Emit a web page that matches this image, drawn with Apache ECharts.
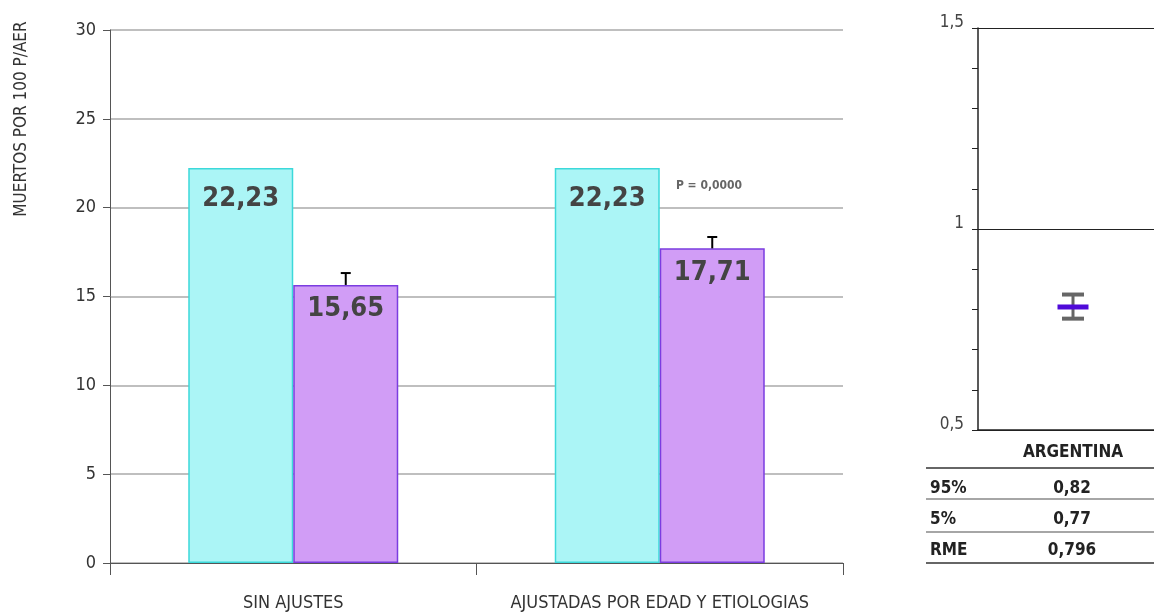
<!DOCTYPE html>
<html><head><meta charset="utf-8">
<script src="https://cdn.jsdelivr.net/npm/echarts@6/dist/echarts.min.js"></script>
<style>html,body{margin:0;padding:0;background:#fff}#c{width:1154px;height:613px}</style>
</head><body><div id="c"></div>
<script>
// ---- data ----
const categories = ['SIN AJUSTES', 'AJUSTADAS POR EDAD Y ETIOLOGIAS'];
const crudeValues = [22.23, 22.23];
const adjustedValues = [15.65, 17.71];
const adjustedUpper = [16.32, 18.35];
const leftTicks = [0, 5, 10, 15, 20, 25, 30];
const yAxisTitle = 'MUERTOS POR 100 P/AER';
const pText = 'P = 0,0000';
const rightCategories = ['ARGENTINA'];
const rmeDrawn = [0.806];
const rmeHigh = [0.837];
const rmeLow = [0.777];
const rightTicks = [0.5, 1, 1.5];
const tableLabels = ['95%', '5%', 'RME'];
const tableValues = ['0,82', '0,77', '0,796'];

const FONT = '"Liberation Sans Narrow", "DejaVu Sans Condensed", "Roboto Condensed", sans-serif';
const fmt = v => String(v).replace('.', ',');
const RIGHT_SHIFT = 7;

const chart = echarts.init(document.getElementById('c'), null, {renderer: 'canvas'});

const tableGraphics = [];
const rowY = [489, 520, 551];
const lineY = [468, 499, 532, 563];
lineY.forEach((y, i) => {
  tableGraphics.push({type: 'line', shape: {x1: 926, y1: y, x2: 1154, y2: y},
    style: {stroke: (i === 0 || i === 3) ? '#333' : '#888', lineWidth: 1.5}});
});
tableLabels.forEach((t, i) => {
  tableGraphics.push({type: 'text', x: 930, y: rowY[i], style: {text: t, font: 'bold 17px ' + FONT, fill: '#222', textAlign: 'left', textVerticalAlign: 'middle'}});
  tableGraphics.push({type: 'text', x: 1072, y: rowY[i], style: {text: tableValues[i], font: 'bold 17px ' + FONT, fill: '#222', textAlign: 'center', textVerticalAlign: 'middle'}});
});

const option = {
  animation: false,
  backgroundColor: '#fff',
  grid: [
    {left: 110, right: 311, top: 30, bottom: 50},
    {left: 978, right: 0, top: 28, bottom: 183}
  ],
  xAxis: [
    {type: 'category', gridIndex: 0, data: categories,
      axisLine: {lineStyle: {color: '#555', width: 1}},
      axisTick: {show: true, length: 12, lineStyle: {color: '#555'}},
      axisLabel: {interval: 0, margin: 31, fontSize: 18, color: '#333', fontFamily: FONT}},
    {type: 'category', gridIndex: 1, data: rightCategories,
      axisLine: {lineStyle: {color: '#222', width: 1.5}},
      axisTick: {show: false},
      axisLabel: {interval: 0, margin: 14, fontSize: 17, fontWeight: 'bold', color: '#222', fontFamily: FONT,
        padding: [0, 0, 0, RIGHT_SHIFT * 2]}}
  ],
  yAxis: [
    {type: 'value', gridIndex: 0, min: leftTicks[0], max: leftTicks[leftTicks.length - 1], interval: 5,
      axisLine: {show: true, lineStyle: {color: '#555'}},
      axisTick: {show: true, length: 7, lineStyle: {color: '#555'}},
      axisLabel: {margin: 14, fontSize: 18, color: '#333', fontFamily: FONT},
      splitLine: {lineStyle: {color: '#aaa', width: 1.5}}},
    {type: 'value', gridIndex: 1, min: rightTicks[0], max: rightTicks[rightTicks.length - 1], interval: 0.5,
      axisLine: {show: true, lineStyle: {color: '#222', width: 1.5}},
      axisTick: {show: true, length: 6, lineStyle: {color: '#222'}},
      minorTick: {show: true, splitNumber: 5, length: 6, lineStyle: {color: '#222'}},
      axisLabel: {margin: 14, fontSize: 17, color: '#444', fontFamily: FONT, verticalAlign: 'bottom',
        lineHeight: 10, formatter: v => fmt(v)},
      splitLine: {lineStyle: {color: '#222', width: 1}}}
  ],
  series: [
    {type: 'bar', xAxisIndex: 0, yAxisIndex: 0, data: crudeValues, barWidth: 105, barGap: '0%',
      itemStyle: {color: '#abf5f6', borderColor: '#3cd9da', borderWidth: 1.5},
      label: {show: true, position: 'insideTop', distance: 17, formatter: p => p.value.toFixed(2).replace('.', ','),
        fontSize: 27, fontWeight: 'bold', color: '#444', fontFamily: FONT}},
    {type: 'bar', xAxisIndex: 0, yAxisIndex: 0, data: adjustedValues, barWidth: 105, barGap: '0%',
      itemStyle: {color: '#d19df6', borderColor: '#7b3de0', borderWidth: 1.5},
      label: {show: true, position: 'insideTop', distance: 11, formatter: p => p.value.toFixed(2).replace('.', ','),
        fontSize: 27, fontWeight: 'bold', color: '#444', fontFamily: FONT}},
    {type: 'custom', xAxisIndex: 0, yAxisIndex: 0, z: 5,
      data: adjustedValues.map((v, i) => [i, v, adjustedUpper[i]]),
      renderItem: (params, api) => {
        const base = api.coord([api.value(0), api.value(1)]);
        const top = api.coord([api.value(0), api.value(2)]);
        const x = base[0] + 52.5;
        return {type: 'group', children: [
          {type: 'line', shape: {x1: x, y1: base[1], x2: x, y2: top[1]}, style: {stroke: '#000', lineWidth: 2}},
          {type: 'line', shape: {x1: x - 5, y1: top[1], x2: x + 5, y2: top[1]}, style: {stroke: '#000', lineWidth: 2}}
        ]};
      }},
    {type: 'custom', xAxisIndex: 1, yAxisIndex: 1, z: 5,
      data: rmeDrawn.map((v, i) => [i, v, rmeHigh[i], rmeLow[i]]),
      renderItem: (params, api) => {
        const c = api.coord([api.value(0), api.value(1)]);
        const hi = api.coord([api.value(0), api.value(2)]);
        const lo = api.coord([api.value(0), api.value(3)]);
        const x = c[0] + RIGHT_SHIFT;
        return {type: 'group', children: [
          {type: 'line', shape: {x1: x, y1: hi[1], x2: x, y2: lo[1]}, style: {stroke: '#666', lineWidth: 3}},
          {type: 'line', shape: {x1: x - 11, y1: hi[1], x2: x + 11, y2: hi[1]}, style: {stroke: '#666', lineWidth: 4}},
          {type: 'line', shape: {x1: x - 11, y1: lo[1], x2: x + 11, y2: lo[1]}, style: {stroke: '#666', lineWidth: 4}},
          {type: 'line', shape: {x1: x - 15.5, y1: c[1], x2: x + 15.5, y2: c[1]}, style: {stroke: '#4f0ad8', lineWidth: 5}}
        ]};
      }}
  ],
  graphic: [
    {type: 'text', x: 22, y: 119, rotation: Math.PI / 2,
      style: {text: yAxisTitle, font: '17px ' + FONT, fill: '#333', textAlign: 'center', textVerticalAlign: 'middle'}},
    {type: 'text', x: 709, y: 186,
      style: {text: pText, font: 'bold 12px ' + FONT, fill: '#666', textAlign: 'center', textVerticalAlign: 'middle'}}
  ].concat(tableGraphics)
};
chart.setOption(option);
</script>
</body></html>
